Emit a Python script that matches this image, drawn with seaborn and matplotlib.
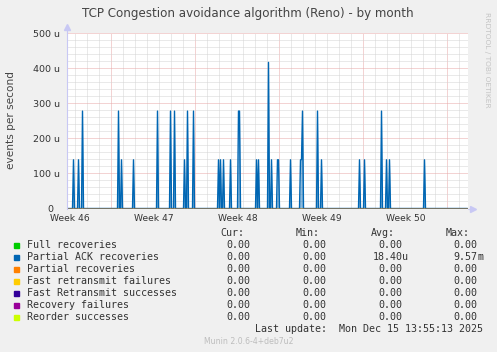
import numpy as np
import pandas as pd
import matplotlib
matplotlib.use("Agg")
import matplotlib.pyplot as plt
from matplotlib.patches import Rectangle
import seaborn as sns

# hours from the left edge of the graph, one sample every 2 hours
spike_hours = [14, 24, 32, 104, 110, 134, 182, 208, 216, 236, 242, 254,
               304, 308, 314, 328, 344, 346, 380, 384, 404, 410, 422, 424,
               448, 468, 470, 472, 502, 510, 586, 596, 630, 640, 646, 716]
# events per second, in micro units (u)
spike_values = [139, 139, 278, 278, 139, 139, 278, 278, 278, 139, 278, 278,
                139, 139, 139, 139, 278, 278, 139, 139, 417, 139, 139, 139,
                139, 139, 139, 278, 278, 139, 139, 139, 278, 139, 139, 139]

series_names = ["Full recoveries", "Partial ACK recoveries", "Partial recoveries",
                "Fast retransmit failures", "Fast Retransmit successes",
                "Recovery failures", "Reorder successes"]
series_colors = ["#00cc00", "#0066b3", "#ff8000", "#ffcc00", "#330099",
                 "#990099", "#ccff00"]
cur_vals = ["0.00", "0.00", "0.00", "0.00", "0.00", "0.00", "0.00"]
min_vals = ["0.00", "0.00", "0.00", "0.00", "0.00", "0.00", "0.00"]
avg_vals = ["0.00", "18.40u", "0.00", "0.00", "0.00", "0.00", "0.00"]
max_vals = ["0.00", "9.57m", "0.00", "0.00", "0.00", "0.00", "0.00"]

week_labels = ["Week 46", "Week 47", "Week 48", "Week 49", "Week 50"]
week_pos = [7, 175, 343, 511, 679]
y_ticks = [0, 100, 200, 300, 400, 500]
y_labels = ["0  ", "100 u", "200 u", "300 u", "400 u", "500 u"]
span_hours = 803

W, H = 497, 352
sns.set_style("white")
plt.rcParams["font.family"] = ["DejaVu Sans"]

fig = plt.figure(figsize=(W / 100, H / 100), dpi=100, facecolor="#f0f0f0")
L, R, T, B = 66.5, 468, 33.3, 208.5
ax = fig.add_axes([L / W, 1 - B / H, (R - L) / W, (B - T) / H])
ax.set_facecolor("white")

def ftext(x, y, s, **kw):
    fig.text(x / W, 1 - y / H, s, **kw)

# grid
for h in np.arange(17.6, span_hours, 24):
    major = abs(((h - 89.6) / 168) - round((h - 89.6) / 168)) < 1e-6
    ax.axvline(h, color="#e8a8a8" if major else "#d4d4d4", lw=0.72,
               ls=(0, (1, 1)), zorder=0)
for v in range(20, 501, 20):
    ax.axhline(v, color="#e8a8a8" if v % 100 == 0 else "#d4d4d4", lw=0.72,
               ls=(0, (1, 1)), zorder=0)

# data
grid_h = np.arange(0, span_hours + 1, 2)
blue = np.zeros(len(grid_h))
for h, v in zip(spike_hours, spike_values):
    blue[h // 2] = v
frames = []
for name in series_names:
    if name == "Partial ACK recoveries":
        frames.append(pd.DataFrame({"hour": grid_h, "value": blue, "series": name}))
    else:
        frames.append(pd.DataFrame({"hour": [0, span_hours], "value": [0, 0], "series": name}))
df = pd.concat(frames, ignore_index=True)

ax.fill_between(grid_h, blue, color="#0066b3", alpha=0.45, lw=0, zorder=1)
sns.lineplot(data=df, x="hour", y="value", hue="series", hue_order=series_names,
             palette=dict(zip(series_names, series_colors)), estimator=None,
             sort=True, legend=False, lw=1.0, ax=ax, zorder=2)

ax.set_xlim(0, span_hours)
ax.set_ylim(0, 500)
ax.set_xlabel("")
ax.set_ylabel("")
ax.set_xticks(week_pos)
ax.set_xticklabels(week_labels, fontsize=6.6, color="#333333")
ax.set_yticks(y_ticks)
ax.set_yticklabels(y_labels, fontsize=6.8, color="#333333")
ax.tick_params(axis="both", length=0, pad=4)
ax.tick_params(axis="y", pad=4.5)
for s in ["top", "right", "bottom"]:
    ax.spines[s].set_visible(False)
ax.spines["left"].set_color("#c8c8f4")
ax.spines["left"].set_linewidth(0.8)
ax.plot([0, 0], [1, 1.03], color="#c8c8f4", lw=0.8, transform=ax.transAxes, clip_on=False)
ax.plot([0], [1.035], marker="^", ms=4, color="#c8c8f4", transform=ax.transAxes, clip_on=False)
ax.plot([1, 1.01], [0, 0], color="#c8c8f4", lw=0.8, transform=ax.transAxes, clip_on=False)
ax.plot([1.012], [0], marker=">", ms=4, color="#c8c8f4", transform=ax.transAxes, clip_on=False)

ftext(248, 14, "TCP Congestion avoidance algorithm (Reno) - by month",
      ha="center", va="center", fontsize=8.6, color="#444444")
ftext(11, 120, "events per second", rotation=90, ha="center", va="center",
      fontsize=7.6, color="#444444")
ftext(487, 60, "RRDTOOL / TOBI OETIKER", rotation=270, ha="center", va="center",
      fontsize=5.4, color="#c4c4c4")

# legend table
mono = "DejaVu Sans Mono"
fs = 7.2
ftext(244, 233.5, "Cur:", ha="right", va="center", family=mono, fontsize=fs, color="#333333")
ftext(319.5, 233.5, "Min:", ha="right", va="center", family=mono, fontsize=fs, color="#333333")
ftext(394.5, 233.5, "Avg:", ha="right", va="center", family=mono, fontsize=fs, color="#333333")
ftext(469.5, 233.5, "Max:", ha="right", va="center", family=mono, fontsize=fs, color="#333333")

def put_val(x_end, y, s):
    num = s.rstrip("um")
    suf = s[len(num):]
    ftext(x_end, y, num, ha="right", va="center", family=mono, fontsize=fs, color="#333333")
    if suf:
        ftext(x_end, y, suf, ha="left", va="center", family=mono, fontsize=fs, color="#333333")

for i, name in enumerate(series_names):
    y = 245.3 + 12 * i
    fig.patches.append(Rectangle(((14) / W, 1 - (y + 2.3) / H), 4.6 / W, 4.6 / H,
                                 transform=fig.transFigure, color=series_colors[i]))
    ftext(26.7, y, name, ha="left", va="center", family=mono, fontsize=fs, color="#333333")
    put_val(250.7, y, cur_vals[i])
    put_val(326.7, y, min_vals[i])
    put_val(402.3, y, avg_vals[i])
    put_val(477.3, y, max_vals[i])

ftext(483.3, 329.5, "Last update:  Mon Dec 15 13:55:13 2025", ha="right", va="center",
      family=mono, fontsize=fs, color="#333333")
ftext(249, 341, "Munin 2.0.6-4+deb7u2", ha="center", va="center", fontsize=5.6,
      color="#bdbdbd")

fig.savefig("out.png", dpi=100, facecolor=fig.get_facecolor())
